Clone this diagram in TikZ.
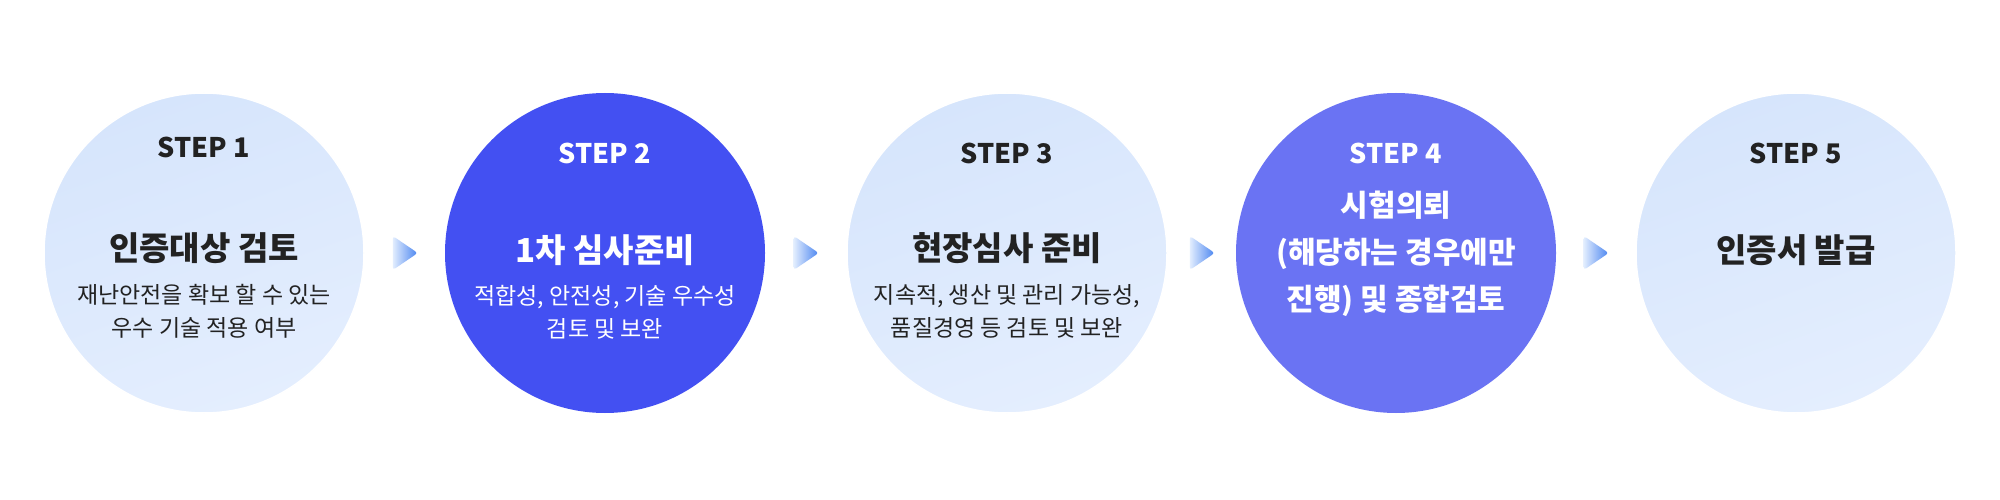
\documentclass[tikz,border=0pt]{standalone}
\usepackage{fontspec}
\setmainfont{Noto Sans CJK KR}
\usetikzlibrary{calc}
\definecolor{lightA}{HTML}{D6E5FC}
\definecolor{lightB}{HTML}{E4EEFE}
\definecolor{blueA}{HTML}{4350F2}
\definecolor{blueB}{HTML}{6A73F3}
\definecolor{ink}{HTML}{222222}
\definecolor{arrL}{HTML}{E2EDFE}
\definecolor{arrR}{HTML}{4A85F0}
\tikzset{
  stepcircle/.style={circle, minimum size=320pt, inner sep=0pt},
  lightcircle/.style={stepcircle, draw=white, line width=1.5pt, shading=axis, top color=lightA, bottom color=lightB, shading angle=20},
  darkcircle/.style={stepcircle, fill=blueA},
  midcircle/.style={stepcircle, fill=blueB},
  steplabel/.style={font=\fontsize{27}{30}\selectfont\bfseries, inner sep=0pt},
  titlelabel/.style={font=\fontsize{33}{40}\selectfont\bfseries, inner sep=0pt, align=center},
  sublabel/.style={font=\fontsize{23}{33}\selectfont, inner sep=0pt, align=center},
  arrowfill/.style={left color=arrL, right color=arrR, rounded corners=3pt},
}
\begin{document}
\begin{tikzpicture}[x=1pt, y=-1pt]
\useasboundingbox (0,0) rectangle (2000,500);
\fill[white] (0,0) rectangle (2000,500);

\node[lightcircle] (c1) at (204,253) {};
\node[darkcircle]  (c2) at (605,253) {};
\node[lightcircle] (c3) at (1007,253) {};
\node[midcircle]   (c4) at (1396,253) {};
\node[lightcircle] (c5) at (1796,253) {};

% step 1
\node[steplabel, text=ink] (s1) at (204,147) {STEP 1};
\node[titlelabel, text=ink] (t1) at (204,248) {인증대상 검토};
\node[sublabel, text=ink] (d1) at (204,311) {재난안전을 확보 할 수 있는\\우수 기술 적용 여부};

% step 2
\node[steplabel, text=white] (s2) at (605,153) {STEP 2};
\node[titlelabel, text=white] (t2) at (605,250) {1차 심사준비};
\node[sublabel, text=white] (d2) at (605,312) {적합성, 안전성, 기술 우수성\\검토 및 보완};

% step 3
\node[steplabel, text=ink] (s3) at (1007,153) {STEP 3};
\node[titlelabel, text=ink] (t3) at (1007,248) {현장심사 준비};
\node[sublabel, text=ink] (d3) at (1007,311) {지속적, 생산 및 관리 가능성,\\품질경영 등 검토 및 보완};

% step 4
\node[steplabel, text=white] (s4) at (1396,153) {STEP 4};
\node[titlelabel, text=white, font=\fontsize{30}{47}\selectfont\bfseries] (t4) at (1396,254) {시험의뢰\\(해당하는 경우에만\\진행) 및 종합검토};

% step 5
\node[steplabel, text=ink] (s5) at (1796,153) {STEP 5};
\node[titlelabel, text=ink] (t5) at (1796,250) {인증서 발급};

% arrows between circles
\foreach \i/\j in {1/2,2/3,3/4,4/5}{
  \coordinate (a\i) at ($(c\i.east)!0.5!(c\j.west)$);
  \shade[arrowfill] ($(a\i)+(-12,-17)$) -- ($(a\i)+(13,0)$) -- ($(a\i)+(-12,17)$) -- cycle;
}
\end{tikzpicture}
\end{document}
